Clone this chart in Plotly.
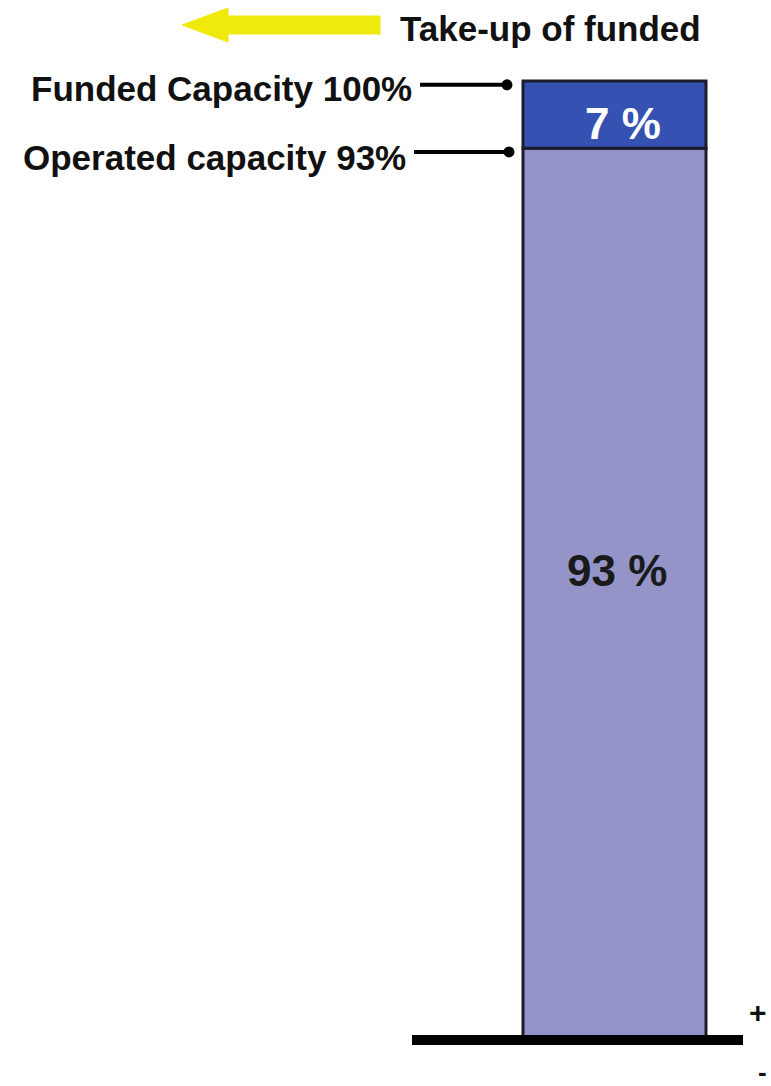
import plotly.graph_objects as go

# ---- data ----
segments = ["Operated capacity", "Unused funded capacity"]
segment_values = [93, 7]
segment_labels = ["93 %", "7 %"]
segment_colors = ["#9494C8", "#3551B1"]
marker_labels = ["Funded Capacity 100%", "Operated capacity 93%"]
marker_values = [100, 93]
arrow_label = "Take-up of funded"

W, H = 771, 1086
# axis geometry (pixel layout)
BAR_L, BAR_R = 523, 706
Y0_PX, Y100_PX = 1040, 81
ppx = (BAR_R - BAR_L)  # px per x unit (bar width = 1)
ppy = (Y0_PX - Y100_PX) / 100.0
xr = [-0.5 - BAR_L / ppx, 0.5 + (W - BAR_R) / ppx]
yr = [-(H - Y0_PX) / ppy, Y0_PX / ppy]


def xd(px):
    return xr[0] + px / ppx


def px2paper(px, py):
    return px / W, 1 - py / H


FONT = "Liberation Sans, Arial, sans-serif"

fig = go.Figure()
base = 0
for name, v, c in zip(segments, segment_values, segment_colors):
    fig.add_trace(go.Bar(x=[0], y=[v], base=[base], width=1, name=name,
                         marker=dict(color=c, line=dict(color="#1c1c2e", width=3)),
                         hoverinfo="skip"))
    base += v

# segment labels
fig.add_annotation(x=0, y=segment_values[0] / 2, text="<b>" + segment_labels[0] + "</b>",
                   showarrow=False, yshift=24, xshift=2, font=dict(family=FONT, size=44, color="#1a1a1a"))
fig.add_annotation(x=0, y=segment_values[0] + segment_values[1] / 2, text="<b>" + segment_labels[1] + "</b>",
                   showarrow=False, yshift=-9, xshift=8, font=dict(family=FONT, size=44, color="white"))

# leader lines with dots
for lab, v, x0, x1, ysh in zip(marker_labels, marker_values, [420, 414], [507, 509], [-7, -9]):
    yl = v - 0.4
    fig.add_trace(go.Scatter(x=[xd(x0), xd(x1)], y=[yl, yl], mode="lines",
                             line=dict(color="black", width=4), hoverinfo="skip", showlegend=False))
    fig.add_trace(go.Scatter(x=[xd(x1)], y=[yl], mode="markers",
                             marker=dict(color="black", size=11), hoverinfo="skip", showlegend=False))
    fig.add_annotation(x=xd(x0 - 6), y=v, text="<b>" + lab + "</b>", xanchor="right",
                       showarrow=False, yshift=ysh, font=dict(family=FONT, size=35, color="#111"))

# baseline
fig.add_shape(type="line", x0=xd(412), x1=xd(743), y0=0, y1=0, yref="y", xref="x",
              line=dict(color="black", width=10))

# + / - signs
fig.add_annotation(x=xd(769), y=0, text="<b>+</b>", showarrow=False, yshift=28, xanchor="right",
                   font=dict(family=FONT, size=30, color="#111"))
fig.add_annotation(x=xd(769), y=0, text="<b>-</b>", showarrow=False, yshift=-32, xanchor="right",
                   font=dict(family=FONT, size=26, color="#111"))

# yellow arrow (paper coords)
pts = [(182, 25), (228, 8), (228, 16), (380, 16), (380, 34), (228, 34), (228, 42)]
path = "M " + " L ".join(f"{px2paper(a, b)[0]:.5f},{px2paper(a, b)[1]:.5f}" for a, b in pts) + " Z"
fig.add_shape(type="path", path=path, xref="paper", yref="paper",
              fillcolor="#F0EA0C", line=dict(color="#F0EA0C", width=1))
fig.add_annotation(x=px2paper(398, 0)[0], y=px2paper(0, 29)[1], xref="paper", yref="paper",
                   text="<b>" + arrow_label + "</b>", xanchor="left", yanchor="middle", showarrow=False,
                   font=dict(family=FONT, size=35, color="#111"))

fig.update_layout(
    width=W, height=H, margin=dict(l=0, r=0, t=0, b=0),
    barmode="overlay", showlegend=False,
    plot_bgcolor="white", paper_bgcolor="white",
    xaxis=dict(range=xr, visible=False, fixedrange=True),
    yaxis=dict(range=yr, visible=False, fixedrange=True),
)
fig.write_html("out.html")
